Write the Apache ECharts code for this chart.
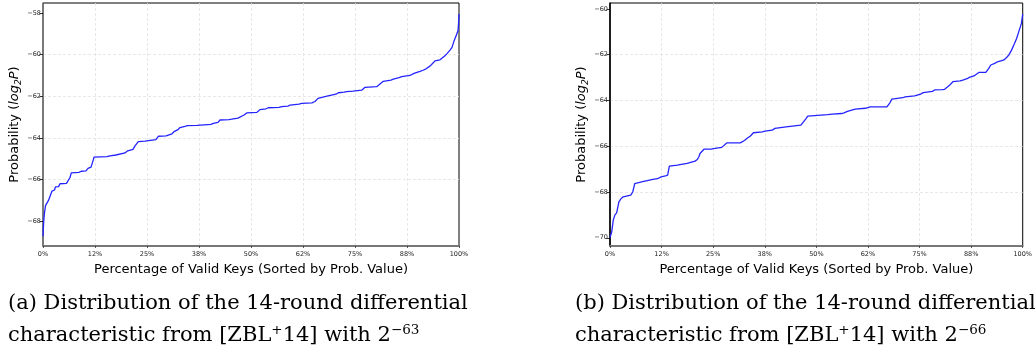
<!DOCTYPE html>
<html>
<head>
<meta charset="utf-8">
<script src="https://cdn.jsdelivr.net/npm/echarts@6/dist/echarts.min.js"></script>
<style>
  html, body { margin: 0; padding: 0; background: #fff; }
  #chart { width: 1035px; height: 349px; }
</style>
</head>
<body>
<div id="chart"></div>
<script>
// x tick positions (percent of keys) and their printed labels
const xTicks = [0, 12.5, 25, 37.5, 50, 62.5, 75, 87.5, 100]
const xTickLabels = ['0%', '12%', '25%', '38%', '50%', '62%', '75%', '88%', '100%']

const leftYTicks = [-68, -66, -64, -62, -60, -58]
const rightYTicks = [-70, -68, -66, -64, -62, -60]

// (a) sorted log2 probabilities
const leftPct = [0, 0.17, 0.36, 0.6, 1.08, 1.32, 1.8, 2.16, 2.76, 3.0, 3.73, 4.09, 5.65, 6.01, 6.49, 6.8,
  8.65, 9.21, 10.34, 10.82, 11.54, 12.02, 12.26, 15.38, 16.11, 17.55, 18.03, 19.71, 20.36, 21.63, 22.12,
  22.6, 22.91, 24.52, 24.93, 27.16, 27.72, 29.57, 30.12, 31.01, 31.49, 32.45, 32.93, 34.13, 34.62, 37.02,
  37.5, 40.38, 40.94, 42.07, 42.55, 44.71, 45.36, 46.88, 47.36, 48.32, 48.97, 51.44, 52.16, 53.61, 54.16,
  56.73, 57.38, 58.89, 59.38, 61.54, 62.19, 64.66, 64.98, 65.38, 66.11, 66.59, 68.51, 68.99, 70.43, 70.99,
  72.36, 73.0, 74.52, 75.0, 76.68, 77.4, 80.22, 80.77, 81.8, 83.65, 84.21, 85.58, 86.23, 88.22, 88.63,
  89.18, 89.66, 90.63, 91.35, 92.07, 93.03, 93.75, 94.23, 95.43, 95.91, 96.63, 97.12, 97.84, 98.32, 98.8,
  99.28, 99.76, 99.9, 100]
const leftVals = [-68.72, -68.0, -67.6, -67.25, -67.2, -67.0, -66.98, -66.55, -66.5, -66.35, -66.34, -66.2,
  -66.18, -66.1, -65.9, -65.68, -65.65, -65.6, -65.58, -65.46, -65.4, -65.1, -64.92, -64.9, -64.86, -64.82,
  -64.74, -64.72, -64.62, -64.55, -64.38, -64.3, -64.18, -64.15, -64.12, -64.08, -63.92, -63.9, -63.86,
  -63.8, -63.7, -63.6, -63.5, -63.45, -63.41, -63.4, -63.38, -63.35, -63.3, -63.25, -63.14, -63.12, -63.1,
  -63.05, -62.98, -62.9, -62.8, -62.77, -62.64, -62.6, -62.55, -62.53, -62.5, -62.47, -62.42, -62.38,
  -62.34, -62.32, -62.3, -62.25, -62.1, -62.02, -61.98, -61.95, -61.9, -61.83, -61.8, -61.78, -61.75,
  -61.73, -61.7, -61.57, -61.54, -61.45, -61.28, -61.22, -61.18, -61.1, -61.06, -61.0, -60.98, -60.9,
  -60.84, -60.8, -60.75, -60.68, -60.55, -60.4, -60.3, -60.25, -60.2, -60.05, -59.95, -59.78, -59.65,
  -59.35, -59.1, -58.85, -58.5, -58.05]

// (b) sorted log2 probabilities
const rightPct = [0, 0.41, 0.79, 1.2, 1.61, 2.16, 2.64, 3.19, 5.03, 5.51, 5.99, 7.91, 8.39, 10.38, 11.5,
  12.39, 13.42, 13.97, 14.38, 16.29, 16.77, 18.69, 19.17, 20.61, 21.16, 21.57, 21.81, 22.77, 24.69, 25.16,
  27.08, 27.56, 28.35, 31.56, 32.59, 33.14, 34.03, 34.75, 36.91, 37.55, 39.3, 39.95, 42.65, 43.13, 46.25,
  46.73, 47.45, 47.93, 52.72, 53.92, 56.08, 56.72, 57.51, 57.92, 59.43, 59.91, 61.83, 62.31, 63.1, 67.1,
  67.82, 68.3, 70.94, 71.49, 73.81, 74.29, 75.25, 75.89, 78.12, 78.67, 80.52, 81.07, 82.2, 83.08, 84.83,
  85.48, 86.51, 87.06, 88.19, 88.67, 89.46, 91.06, 91.78, 92.26, 93.22, 93.86, 94.89, 95.45, 96.09, 96.65,
  97.3, 97.85, 98.5, 99.05, 99.69, 100]
const rightVals = [-69.99, -69.75, -69.23, -69.0, -68.91, -68.43, -68.3, -68.21, -68.14, -68.0, -67.63,
  -67.55, -67.51, -67.45, -67.42, -67.34, -67.3, -67.26, -66.87, -66.83, -66.78, -66.75, -66.71, -66.65,
  -66.58, -66.45, -66.32, -66.13, -66.12, -66.1, -66.05, -66.0, -65.85, -65.85, -65.75, -65.66, -65.55,
  -65.41, -65.37, -65.34, -65.3, -65.22, -65.15, -65.12, -65.08, -65.0, -64.8, -64.68, -64.62, -64.6,
  -64.57, -64.54, -64.48, -64.42, -64.38, -64.36, -64.34, -64.33, -64.28, -64.28, -64.1, -63.94, -63.88,
  -63.84, -63.8, -63.76, -63.72, -63.66, -63.6, -63.54, -63.53, -63.51, -63.35, -63.18, -63.14, -63.11,
  -63.05, -62.99, -62.93, -62.89, -62.77, -62.77, -62.6, -62.45, -62.38, -62.31, -62.26, -62.23, -62.12,
  -62.01, -61.8, -61.58, -61.3, -60.99, -60.63, -60.22]

const chart = echarts.init(document.getElementById('chart'), null, { renderer: 'canvas' })

const sans = 'DejaVu Sans'
const serif = 'DejaVu Serif'

const gridLine = { show: true, showMinLine: false, showMaxLine: false, lineStyle: { color: '#e2e2e2', type: [3, 2], width: 0.8 } }

function xAxisFor(idx, lineColor) {
  return {
    gridIndex: idx,
    type: 'value',
    min: 0,
    max: 100,
    interval: 12.5,
    name: 'Percentage of Valid Keys (Sorted by Prob. Value)',
    nameLocation: 'middle',
    nameGap: 8,
    nameTextStyle: { fontFamily: sans, fontSize: 13, color: '#000', verticalAlign: 'top' },
    axisLine: { onZero: false, lineStyle: { color: lineColor, width: 2 } },
    axisTick: { show: true, length: 2, lineStyle: { color: '#333', width: 0.8 } },
    axisLabel: {
      fontFamily: sans, fontSize: 6.5, color: '#222', margin: 5,
      formatter: v => xTickLabels[xTicks.indexOf(v)]
    },
    splitLine: gridLine
  }
}

function yAxisFor(idx, min, max, ticks, lineColor) {
  return {
    gridIndex: idx,
    type: 'value',
    min: min,
    max: max,
    name: '{n|Probability (}{i|log}{sub|2}{i|P}{n|)}',
    nameLocation: 'middle',
    nameRotate: 90,
    nameGap: 20,
    nameTextStyle: {
      rich: {
        n: { fontFamily: sans, fontSize: 13, color: '#000', lineHeight: 17 },
        i: { fontFamily: sans, fontSize: 13, fontStyle: 'italic', color: '#000', lineHeight: 17 },
        sub: { fontFamily: sans, fontSize: 9, fontStyle: 'italic', color: '#000', lineHeight: 17, verticalAlign: 'bottom' }
      }
    },
    axisLine: { onZero: false, lineStyle: { color: lineColor, width: 1.5 } },
    axisTick: { show: true, length: 3.5, customValues: ticks, lineStyle: { color: '#000', width: 0.8 } },
    axisLabel: {
      fontFamily: sans, fontSize: 6.5, color: '#222', margin: 2,
      customValues: ticks,
      formatter: v => String(v).replace('-', '\u2212')
    },
    splitLine: gridLine
  }
}

function seriesFor(idx, pct, vals) {
  return {
    type: 'line',
    xAxisIndex: idx,
    yAxisIndex: idx,
    data: pct.map((p, i) => [p, vals[i]]),
    showSymbol: false,
    lineStyle: { color: '#2424ff', width: 1.3 },
    itemStyle: { color: '#2424ff' },
    animation: false,
    z: 3
  }
}

const captionRich = {
  n: { fontFamily: serif, fontSize: 21, color: '#111', lineHeight: 26 },
  g: { fontFamily: serif, fontSize: 21, color: '#1f6b1f', lineHeight: 26 },
  gs: { fontFamily: serif, fontSize: 13.5, color: '#1f6b1f', lineHeight: 26, verticalAlign: 'top' },
  s: { fontFamily: serif, fontSize: 13.5, color: '#111', lineHeight: 26, verticalAlign: 'top' }
}

function caption(x, letter, exp) {
  return [
    {
      type: 'text', left: x, top: 293,
      style: { text: '{n|(' + letter + ') Distribution of the 14-round differential}', rich: captionRich }
    },
    {
      type: 'text', left: x, top: 323,
      style: { text: '{n|characteristic from [}{g|ZBL}{gs|+}{g|14}{n|] with 2}{s|' + exp + '}', rich: captionRich }
    }
  ]
}

chart.setOption({
  backgroundColor: '#fff',
  animation: false,
  grid: [
    { left: 43, top: 3, width: 416, height: 243, show: true, borderColor: '#000', borderWidth: 1, backgroundColor: 'transparent' },
    { left: 610, top: 3, width: 417, height: 243, show: true, borderColor: '#000', borderWidth: 1, backgroundColor: 'transparent' }
  ],
  xAxis: [xAxisFor(0, '#777'), xAxisFor(1, '#777')],
  yAxis: [
    yAxisFor(0, -69.19, -57.52, leftYTicks, '#777'),
    yAxisFor(1, -70.36, -59.74, rightYTicks, '#000')
  ],
  series: [seriesFor(0, leftPct, leftVals), seriesFor(1, rightPct, rightVals)],
  graphic: [...caption(8, 'a', '\u221263'), ...caption(575, 'b', '\u221266')]
})
</script>
</body>
</html>
